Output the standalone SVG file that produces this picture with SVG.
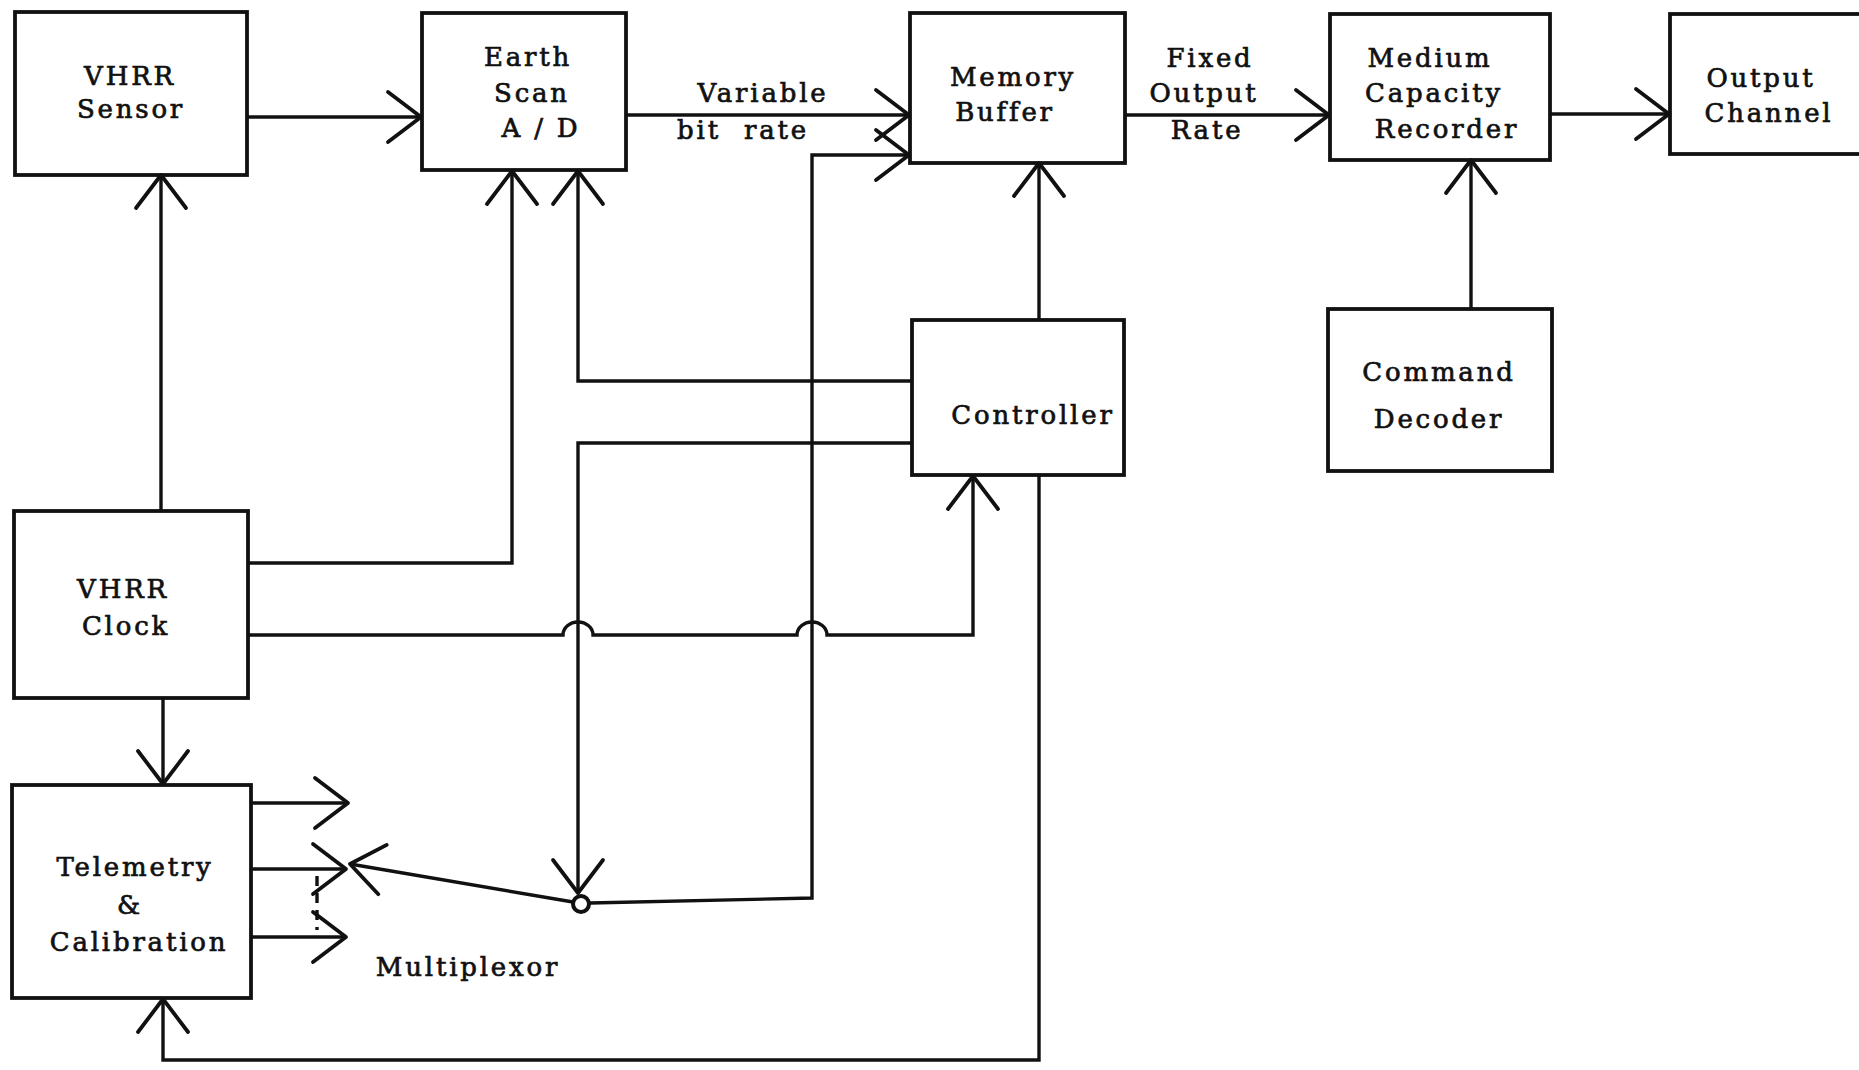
<svg xmlns="http://www.w3.org/2000/svg" width="1859" height="1070" viewBox="0 0 1859 1070">
<style>
.box{fill:none;stroke:#111;stroke-width:3.8}
.ln{fill:none;stroke:#111;stroke-width:3.4;stroke-linejoin:miter}
.ar{marker-end:url(#arr)}
text{font-family:"DejaVu Serif","Liberation Serif",serif;font-size:26px;letter-spacing:2.8px;fill:#111;stroke:#111;stroke-width:0.7px;text-anchor:middle}
</style>
<defs>
<marker id="arr" markerUnits="userSpaceOnUse" viewBox="-40 -30 44 60" refX="0" refY="0" markerWidth="44" markerHeight="60" orient="auto">
<path d="M-33,-25 L0,0 L-33,25" fill="none" stroke="#111" stroke-width="3.8" stroke-linejoin="round" stroke-linecap="round"/>
</marker>
</defs>
<rect width="1859" height="1070" fill="#fff"/>
<g id="connectors">
<path class="ln ar" d="M247,117 H421"/>
<path class="ln ar" d="M626,115 H909"/>
<path class="ln ar" d="M1125,115 H1329"/>
<path class="ln ar" d="M1550,114 H1669"/>
<path class="ln ar" d="M1471,309 V160"/>
<path class="ln ar" d="M161,511 V175"/>
<path class="ln ar" d="M248,563 H512 V171"/>
<path class="ln ar" d="M912,381 H578 V171"/>
<path class="ln ar" d="M912,443 H578 V893"/>
<path class="ln ar" d="M248,635 H563 A15,13 0 0 1 593,635 H797 A15,13 0 0 1 827,635 H973 V476"/>
<path class="ln ar" d="M1039,320 V163"/>
<path class="ln ar" d="M1039,475 V1060 H163 V999"/>
<path class="ln ar" d="M163,698 V784"/>
<path class="ln ar" d="M251,803 H348"/>
<path class="ln ar" d="M251,869 H346"/>
<path class="ln ar" d="M251,937 H346"/>
<path class="ln" d="M317,876 V930" stroke-dasharray="10,7"/>
<path class="ln ar" d="M573,902 L350,864"/>
<path class="ln ar" d="M590,903 L812,898 V155 H909"/>
<circle cx="581" cy="904" r="8" fill="#fff" stroke="#111" stroke-width="4"/>
</g>
<g id="vhrr-sensor">
<rect class="box" x="15" y="12" width="232" height="163"/>
<text x="130" y="85">VHRR</text>
<text x="131" y="118">Sensor</text>
</g>
<g id="earth-scan">
<rect class="box" x="422" y="13" width="204" height="157"/>
<text x="528" y="66">Earth</text>
<text x="532" y="102">Scan</text>
<text x="541" y="137">A / D</text>
</g>
<g id="memory-buffer">
<rect class="box" x="910" y="13" width="215" height="150"/>
<text x="1013" y="86">Memory</text>
<text x="1005" y="121">Buffer</text>
</g>
<g id="recorder">
<rect class="box" x="1330" y="14" width="220" height="146"/>
<text x="1430" y="67">Medium</text>
<text x="1434" y="102">Capacity</text>
<text x="1447" y="138">Recorder</text>
</g>
<g id="output-channel">
<rect class="box" x="1670" y="14" width="200" height="140"/>
<text x="1761" y="87">Output</text>
<text x="1769" y="122">Channel</text>
</g>
<g id="labels">
<text x="763" y="102">Variable</text>
<text x="743" y="139" word-spacing="12">bit rate</text>
<text x="1210" y="67">Fixed</text>
<text x="1204" y="102">Output</text>
<text x="1207" y="139">Rate</text>
<text x="468" y="976">Multiplexor</text>
</g>
<g id="controller">
<rect class="box" x="912" y="320" width="212" height="155"/>
<text x="1033" y="424">Controller</text>
</g>
<g id="command-decoder">
<rect class="box" x="1328" y="309" width="224" height="162"/>
<text x="1439" y="381">Command</text>
<text x="1439" y="428">Decoder</text>
</g>
<g id="vhrr-clock">
<rect class="box" x="14" y="511" width="234" height="187"/>
<text x="123" y="598">VHRR</text>
<text x="126" y="635">Clock</text>
</g>
<g id="telemetry">
<rect class="box" x="12" y="785" width="239" height="213"/>
<text x="135" y="876">Telemetry</text>
<text x="130" y="914">&amp;</text>
<text x="139" y="951">Calibration</text>
</g>
</svg>
